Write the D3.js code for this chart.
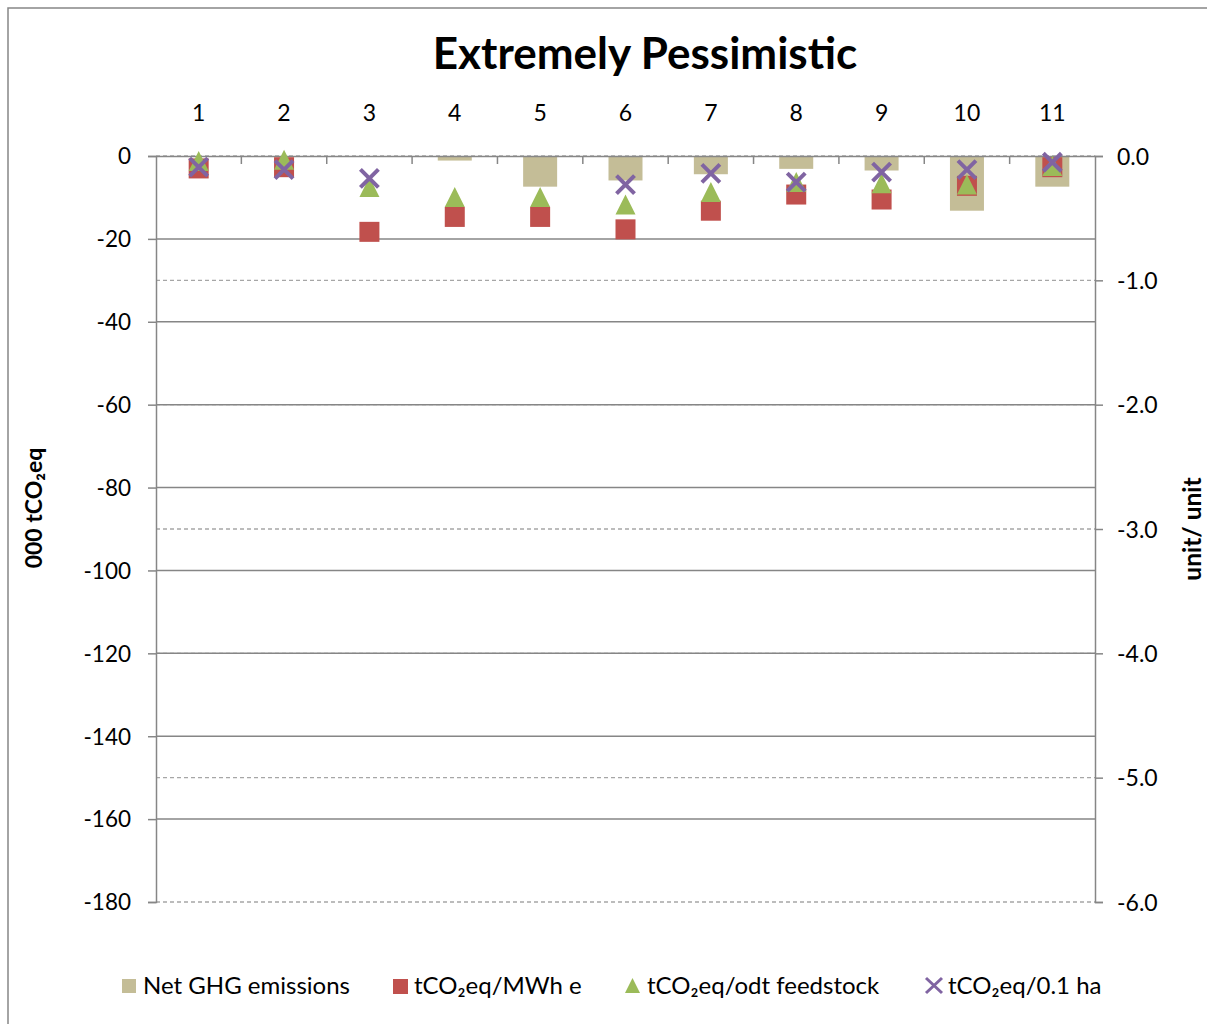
<!DOCTYPE html>
<html><head><meta charset="utf-8">
<script src="https://cdn.jsdelivr.net/npm/d3@7"></script>
<style>
body{margin:0;background:#fff;}
text{font-family:Lato, "Open Sans", sans-serif;fill:#000;}
</style></head>
<body>
<svg id="chart" width="1207" height="1024"></svg>
<script>
const categories = ["1","2","3","4","5","6","7","8","9","10","11"];
const netGHG  = [0, 0, 0, -1.1, -7.4, -5.9, -4.4, -3.1, -3.5, -13.2, -7.4];
const perMWh  = [-0.10, -0.09, -0.61, -0.49, -0.49, -0.59, -0.44, -0.31, -0.35, -0.24, -0.09];
const perOdt  = [-0.04, -0.03, -0.25, -0.33, -0.33, -0.39, -0.29, -0.21, -0.22, -0.23, -0.08];
const perHa   = [-0.09, -0.11, -0.18, null, null, -0.23, -0.14, -0.21, -0.13, -0.11, -0.05];
const leftTicks  = [0, -20, -40, -60, -80, -100, -120, -140, -160, -180];
const rightTicks = [0, -1, -2, -3, -4, -5, -6];
const seriesNames = ["Net GHG emissions", "tCO₂eq/MWh e", "tCO₂eq/odt feedstock", "tCO₂eq/0.1 ha"];
const title = "Extremely Pessimistic";
const leftTitle = "000 tCO₂eq";
const rightTitle = "unit/ unit";

const svg = d3.select("#chart");
const L = 156, R = 1095, T = 156, B = 902;
const gray = "#868686";
const cBar = "#c4bd97", cSq = "#c0504d", cTri = "#9bbb59", cX = "#8064a2";

// outer border
svg.append("rect").attr("x",8).attr("y",8).attr("width",1300).attr("height",1100)
  .attr("fill","none").attr("stroke",gray).attr("stroke-width",1.5);

const x = d3.scaleBand().domain(categories).range([L,R]).paddingInner(0).paddingOuter(0);
const yL = d3.scaleLinear().domain([0,-180]).range([T,B]);
const yR = d3.scaleLinear().domain([0,-6]).range([T,B]);

// dashed gridlines (right axis)
svg.append("g").selectAll("line").data(rightTicks).join("line")
  .attr("x1",L).attr("x2",R).attr("y1",d=>yR(d)).attr("y2",d=>yR(d))
  .attr("stroke","#a6a6a6").attr("stroke-width",1.3).attr("stroke-dasharray","4,3");
// solid gridlines (left axis)
svg.append("g").selectAll("line").data(leftTicks.filter(d=>d!==0 && d!==-180)).join("line")
  .attr("x1",L).attr("x2",R).attr("y1",d=>yL(d)).attr("y2",d=>yL(d))
  .attr("stroke",gray).attr("stroke-width",1.5);

// left axis
const gL = svg.append("g").attr("transform",`translate(${L},0)`)
  .call(d3.axisLeft(yL).tickValues(leftTicks).tickSize(8).tickPadding(17).tickFormat(d3.format("d")));
gL.select(".domain").attr("stroke",gray).attr("stroke-width",1.5);
gL.selectAll(".tick line").attr("stroke",gray).attr("stroke-width",1.5);
gL.selectAll(".tick text").attr("font-size",22.5).attr("font-family","Lato").attr("dy","0.35em").text(d=>d===0?"0":"-"+Math.abs(d));

// right axis
const gR = svg.append("g").attr("transform",`translate(${R},0)`)
  .call(d3.axisRight(yR).tickValues(rightTicks).tickSize(8).tickPadding(14).tickFormat(d=>d===0?"0.0":"-"+Math.abs(d).toFixed(1)));
gR.select(".domain").attr("stroke",gray).attr("stroke-width",1.5);
gR.selectAll(".tick line").attr("stroke",gray).attr("stroke-width",1.5);
gR.selectAll(".tick text").attr("font-size",23).attr("font-family","Lato").attr("dy","0.35em");

// bars (primary)
const bw = 34;
svg.append("g").selectAll("rect").data(netGHG).join("rect")
  .attr("x",(d,i)=>x(categories[i])+x.bandwidth()/2-bw/2).attr("width",bw)
  .attr("y",yL(0)).attr("height",d=>yL(d)-yL(0)).attr("fill",cBar);

// top category axis
const gT = svg.append("g").attr("transform",`translate(0,${T})`)
  .call(d3.axisTop(x).tickSize(0).tickPadding(35));
gT.select(".domain").attr("stroke",gray).attr("stroke-width",1.5);
gT.selectAll(".tick text").attr("font-size",23).attr("font-family","Lato");
// category boundary ticks
svg.append("g").selectAll("line").data(categories.slice(1)).join("line")
  .attr("x1",d=>x(d)).attr("x2",d=>x(d)).attr("y1",T).attr("y2",T+8)
  .attr("stroke",gray).attr("stroke-width",1.5);

// markers (secondary)
svg.append("g").selectAll("rect").data(perMWh).join("rect")
  .attr("x",(d,i)=>x(categories[i])+x.bandwidth()/2-10).attr("y",d=>yR(d)-10)
  .attr("width",20).attr("height",20).attr("fill",cSq);
svg.append("g").selectAll("path").data(perOdt).join("path")
  .attr("d","M0,-10L10,10L-10,10Z")
  .attr("transform",(d,i)=>`translate(${x(categories[i])+x.bandwidth()/2},${yR(d)})`)
  .attr("fill",cTri);
svg.append("g").selectAll("path").data(perHa.map((v,i)=>({v,i})).filter(d=>d.v!==null)).join("path")
  .attr("d","M-9,-9L9,9M-9,9L9,-9")
  .attr("transform",d=>`translate(${x(categories[d.i])+x.bandwidth()/2},${yR(d.v)})`)
  .attr("stroke",cX).attr("stroke-width",4).attr("fill","none");

// title
svg.append("text").attr("x",645).attr("y",69).attr("text-anchor","middle")
  .attr("font-size",44).attr("font-weight","bold").text(title);

// axis titles
svg.append("text").attr("transform","translate(42,508) rotate(-90)").attr("text-anchor","middle")
  .attr("font-size",23).attr("font-weight","bold").text(leftTitle);
svg.append("text").attr("transform","translate(1201,529) rotate(-90)").attr("text-anchor","middle")
  .attr("font-size",24.5).attr("font-weight","bold").text(rightTitle);

// legend
const legY = 986;
const leg = svg.append("g");
const lx = [122, 393, 625, 925];
const tx = [143, 414, 647, 948];
leg.append("rect").attr("x",lx[0]).attr("y",legY-7).attr("width",14).attr("height",14).attr("fill",cBar);
leg.append("rect").attr("x",lx[1]).attr("y",legY-7).attr("width",15).attr("height",15).attr("fill",cSq);
leg.append("path").attr("d",`M${lx[2]+7.5},${legY-8}L${lx[2]+15},${legY+7}L${lx[2]},${legY+7}Z`).attr("fill",cTri);
leg.append("path").attr("d",`M${lx[3]+1},${legY-8}L${lx[3]+17},${legY+7}M${lx[3]+1},${legY+7}L${lx[3]+17},${legY-8}`)
  .attr("stroke",cX).attr("stroke-width",3);
seriesNames.forEach((n,i)=>{
  leg.append("text").attr("x",tx[i]).attr("y",legY+8).attr("font-size",24).text(n);
});
</script>
</body></html>
